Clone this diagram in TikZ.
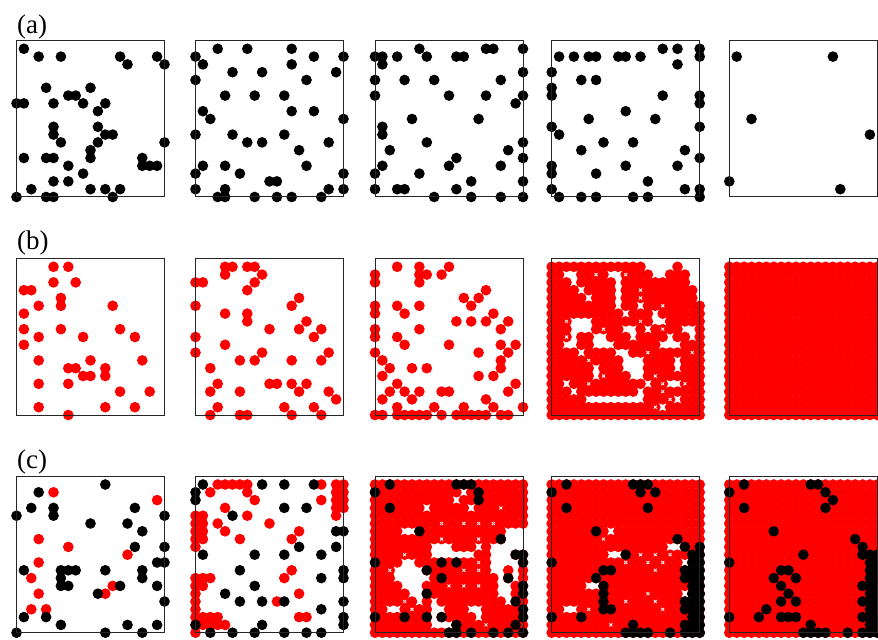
\documentclass[tikz,border=0pt]{standalone}
\usepackage{fontspec}
\setmainfont{Liberation Serif}

\tikzset{
  panel/.style={shift={#1}, x=2.22mm, y=2.34mm},
  panelbox/.style={draw=black!85, line width=0.3mm},
  panellabel/.style={anchor=west, inner sep=0pt, font=\fontsize{23}{26}\selectfont},
}
% occupied sites of a lattice panel
\newcommand{\sites}[2]{\foreach \i/\j in {#2} \fill[#1] (\i,\j) circle (1.6mm);}
% empty sites of a filled panel, then all other sites filled
\newcommand{\emptysites}[2]{\foreach \i/\j in {#2} {\expandafter\gdef\csname e#1-\i-\j\endcsname{}}}
\newcommand{\fullsites}[1]{\foreach \i in {0,...,20} \foreach \j in {0,...,19}
  {\ifcsname e#1-\i-\j\endcsname\else\fill[red] (\i,\j) circle (1.6mm);\fi}}
% white marks on some sites
\newcommand{\crosses}[1]{\foreach \i/\j in {#1}
  \draw[white, line width=0.25mm] (\i,\j) ++(-0.45mm,-0.45mm) -- ++(0.9mm,0.9mm) ++(-0.9mm,0) -- ++(0.9mm,-0.9mm);}

\begin{document}
\begin{tikzpicture}[x=0.3mm, y=0.3mm]
    \clip (0,0) rectangle (878,639);
    \fill[white] (0,0) rectangle (878,639);

    % Row labels
    \node[panellabel] (la) at (17,612) {(a)};
    \node[panellabel] (lb) at (17,396) {(b)};
    \node[panellabel] (lc) at (17,177) {(c)};

    % Row (a)
    \begin{scope}[panel={(16.5,442)}]
        \sites{black}{1/19,3/18,6/18,14/18,15/17,19/18,20/17,4/14,10/14,7/13,8/13,0/12,1/12,5/12,9/12,11/11,12/12,5/9,5/8,6/7,11/9,12/8,13/8,11/7,10/6,10/5,20/7,1/5,4/5,5/5,17/5,17/4,18/4,19/4,7/4,9/3,5/2,7/2,2/1,10/1,12/1,14/1,0/0,4/0,5/0,13/0}
        \draw[panelbox] (0,0) rectangle (20,20);
    \end{scope}
    \begin{scope}[panel={(195.5,442)}]
        \sites{black}{3/19,7/19,13/19,13/17,16/18,20/18,0/18,1/17,5/16,9/16,19/16,0/15,15/15,4/13,8/13,12/13,1/11,2/10,13/11,16/11,20/10,0/8,5/8,12/8,7/7,9/7,18/7,14/6,1/4,4/4,15/4,0/3,6/3,20/3,10/2,11/2,4/1,0/1,18/1,20/1,3/0,4/0,8/0,11/0,13/0,17/0}
        \draw[panelbox] (0,0) rectangle (20,20);
    \end{scope}
    \begin{scope}[panel={(375,442)}]
        \sites{black}{0/18,1/18,1/17,3/18,6/19,7/18,11/18,12/18,15/19,16/19,20/19,20/16,0/15,4/15,8/15,17/15,0/13,10/13,15/13,20/13,19/12,5/10,14/10,1/9,1/8,7/7,2/6,18/6,20/7,20/5,11/5,10/4,1/4,0/3,6/3,17/4,13/2,20/2,0/1,3/1,4/1,11/1,8/0,13/0,17/0,20/0}
        \draw[panelbox] (0,0) rectangle (20,20);
    \end{scope}
    \begin{scope}[panel={(551.7,442)}]
        \sites{black}{1/18,3/18,5/18,6/18,9/18,10/18,12/18,15/19,17/19,17/17,20/19,20/18,0/16,0/14,0/13,4/15,6/15,15/13,20/13,20/12,10/11,5/10,14/10,0/9,1/8,20/9,7/7,11/7,4/6,18/6,20/5,0/4,0/3,10/4,17/4,6/3,13/2,0/1,18/1,20/1,1/0,4/0,6/0,11/0,13/0,20/0}
        \draw[panelbox] (0,0) rectangle (20,20);
    \end{scope}
    \begin{scope}[panel={(729.3,442)}]
        \sites{black}{1/18,14/18,3/10,19/8,0/2,15/1}
        \draw[panelbox] (0,0) rectangle (20,20);
    \end{scope}

    % Row (b)
    \begin{scope}[panel={(16.5,224)}]
        \sites{red}{5/19,7/19,5/17,8/17,1/16,2/16,6/15,6/14,3/14,13/14,1/13,1/11,6/11,14/11,3/10,9/10,16/10,1/9,3/7,10/7,17/7,7/6,8/6,9/5,10/5,12/6,12/5,3/4,7/4,14/3,18/3,3/1,12/1,16/1,7/0}
        \draw[panelbox] (0,0) rectangle (20,20);
    \end{scope}
    \begin{scope}[panel={(195.5,224)}]
        \sites{red}{4/19,5/19,4/18,7/19,8/19,9/18,8/17,7/16,0/17,1/17,0/14,4/13,7/13,7/12,13/14,14/15,10/11,14/11,15/12,16/10,17/11,0/10,0/8,4/9,6/7,8/7,9/8,13/7,17/7,18/8,2/6,2/3,3/4,6/3,10/4,11/4,13/4,14/3,15/4,18/3,19/2,3/1,2/0,6/0,7/0,12/1,13/0,16/1,17/0}
        \draw[panelbox] (0,0) rectangle (20,20);
    \end{scope}
    \begin{scope}[panel={(375,224)}]
        \sites{red}{0/18,0/17,3/19,6/19,6/18,7/18,6/17,9/18,10/19,12/15,13/14,14/15,15/16,0/14,0/13,3/14,4/13,6/14,11/12,13/12,15/12,16/13,17/11,18/12,0/11,0/10,6/11,3/10,4/9,10/9,17/9,19/9,18/8,17/7,14/8,0/8,1/7,2/6,1/5,5/6,7/6,14/5,16/5,17/6,1/2,2/3,3/4,4/3,5/2,6/3,9/3,10/3,18/3,19/4,20/1,15/2,16/1,3/1,8/1,12/1,0/0,1/0,3/0,4/0,5/0,6/0,7/0,9/0,11/0,12/0,13/0,14/0,15/0,17/0,18/0}
        \draw[panelbox] (0,0) rectangle (20,20);
    \end{scope}
    \begin{scope}[panel={(551.7,224)}]
        \emptysites{b4}{13/19,14/19,15/19,16/19,18/19,19/19,20/19,2/18,3/18,8/18,9/18,14/18,15/18,19/18,20/18,3/17,9/17,19/17,20/17,4/16,9/16,20/16,5/15,9/15,20/15,9/14,12/14,10/13,14/13,3/12,4/12,5/12,14/12,15/12,3/11,4/11,5/11,10/11,11/11,13/11,18/11,19/11,3/10,6/10,7/10,11/10,16/10,19/10,2/9,3/9,6/9,7/9,8/9,15/9,16/9,17/9,4/8,9/8,10/8,10/7,11/7,12/7,17/7,6/6,10/6,11/6,12/6,17/6,6/5,11/5,12/5,2/4,13/4,16/4,17/4,3/3,12/3,5/2,6/2,7/2,8/2,9/2,10/2,11/2,12/2,17/2,15/1}
        \fullsites{b4}
        \crosses{6/18,10/18,12/16,12/15,15/14,2/12,7/11,12/12,2/10,15/11,4/8,5/7,13/8,19/8,2/4,5/4,14/5,15/4,18/4,15/3,16/2,14/1,7/5}
        \draw[panelbox] (0,0) rectangle (20,20);
    \end{scope}
    \begin{scope}[panel={(729.3,224)}]
        \fullsites{b5}
        \draw[panelbox] (0,0) rectangle (20,20);
    \end{scope}

    % Row (c)
    \begin{scope}[panel={(16.5,6.3)}]
        \sites{red}{5/18,19/17,3/12,7/11,15/10,3/9,2/7,3/5,2/3,4/3,12/5,13/6}
        \sites{black}{12/19,3/18,2/16,5/16,5/15,0/15,10/14,16/16,20/15,15/14,17/13,16/11,20/11,1/8,6/8,7/8,8/8,6/7,6/6,7/6,12/8,17/8,17/7,19/9,20/9,19/6,14/6,11/5,20/4,1/2,4/2,6/1,15/1,19/1,0/0,12/0,17/0}
        \draw[panelbox] (0,0) rectangle (20,20);
    \end{scope}
    \begin{scope}[panel={(195.5,6.3)}]
        \sites{red}{3/19,4/19,5/19,6/19,7/19,2/18,7/18,8/17,17/19,17/17,19/19,20/19,19/18,20/18,19/17,20/17,19/16,20/16,19/15,4/16,3/14,4/13,7/15,10/14,6/12,14/13,13/12,13/8,12/7,14/5,11/4,14/2,15/2,0/15,1/15,0/14,1/14,0/13,1/13,0/12,1/12,0/11,0/7,1/7,2/7,0/6,1/6,0/5,0/4,0/3,0/2,1/2,2/2,3/2,0/1,1/1,2/1,3/1,4/1,0/0}
        \sites{black}{1/19,0/18,0/17,9/19,12/19,16/19,12/16,15/16,5/15,19/13,20/13,19/11,14/11,1/10,8/10,12/10,17/10,6/8,20/8,20/7,17/7,8/6,4/5,6/4,9/4,12/4,20/4,17/3,20/2,20/1,9/1,0/1,2/0,5/0,8/0,12/0,15/0,17/0}
        \draw[panelbox] (0,0) rectangle (20,20);
    \end{scope}
    \begin{scope}[panel={(375,6.3)}]
        \emptysites{c3}{12/18,11/17,7/16,13/16,4/13,5/13,18/13,19/13,20/13,18/12,19/12,20/12,8/11,9/11,10/11,14/11,16/11,17/11,18/11,19/11,20/11,8/10,9/10,10/10,11/10,12/10,13/10,16/10,17/10,18/10,4/9,5/9,16/9,17/9,18/9,19/9,3/8,4/8,5/8,6/8,16/8,17/8,19/8,3/7,4/7,5/7,6/7,7/7,17/7,19/7,4/6,5/6,6/6,17/6,18/6,5/5,6/5,17/5,18/5,6/4,8/4,18/4,2/3,3/3,8/3,9/3,13/3,14/3,8/2,14/2,8/1,9/1,10/1}
        \fullsites{c3}
        \crosses{9/14,12/14,14/14,16/14,14/12,9/12,17/16,4/10,14/9,12/8,14/8,10/6,12/6,14/6,2/8,4/4,5/3,15/1}
        \sites{black}{2/19,0/18,2/16,11/19,12/19,13/19,14/18,14/17,6/13,17/12,0/9,9/9,11/9,7/8,9/7,19/10,20/10,20/9,18/7,7/5,20/6,20/5,19/4,20/3,20/2,0/2,4/2,7/2,9/2,11/1,10/0,11/0,13/0,16/0,18/0,19/1,20/0}
        \draw[panelbox] (0,0) rectangle (20,20);
    \end{scope}
    \begin{scope}[panel={(551.7,6.3)}]
        \emptysites{c4}{8/13,16/11,17/11,8/10,9/10,18/9,5/6,6/6,18/5,2/3,3/3}
        \fullsites{c4}
        \crosses{7/12,12/10,14/10,10/9,13/9,15/9,14/8,13/5,14/4,15/3,10/4,5/3,8/1,16/10}
        \sites{black}{2/19,0/18,2/16,11/19,12/19,13/19,12/18,14/18,13/16,6/13,17/12,18/11,20/11,19/10,20/10,10/10,0/9,19/9,20/9,18/8,19/8,20/8,18/7,19/7,20/7,19/6,20/6,19/5,20/5,18/4,19/4,20/4,18/3,19/3,20/3,19/2,20/2,18/1,19/1,20/1,18/0,19/0,20/0,7/8,8/8,6/7,7/6,7/5,7/4,7/3,8/3,0/2,4/2,11/1,10/0,11/0,12/0,13/0,16/0}
        \draw[panelbox] (0,0) rectangle (20,20);
    \end{scope}
    \begin{scope}[panel={(729.3,6.3)}]
        \fullsites{c5}
        \sites{black}{2/19,0/18,2/16,11/19,12/19,13/18,14/17,13/16,6/13,10/10,0/9,17/12,18/11,18/10,19/10,20/10,19/9,20/9,19/8,20/8,19/7,20/7,18/6,19/6,20/6,19/5,20/5,18/4,19/4,20/4,19/3,20/3,18/2,19/2,20/2,19/1,20/1,18/0,19/0,20/0,7/8,8/8,9/7,6/7,7/6,8/5,7/4,9/4,5/3,4/2,7/2,8/2,9/2,0/2,11/1,10/0,11/0,12/0,13/0,16/0}
        \draw[panelbox] (0,0) rectangle (20,20);
    \end{scope}
\end{tikzpicture}
\end{document}
